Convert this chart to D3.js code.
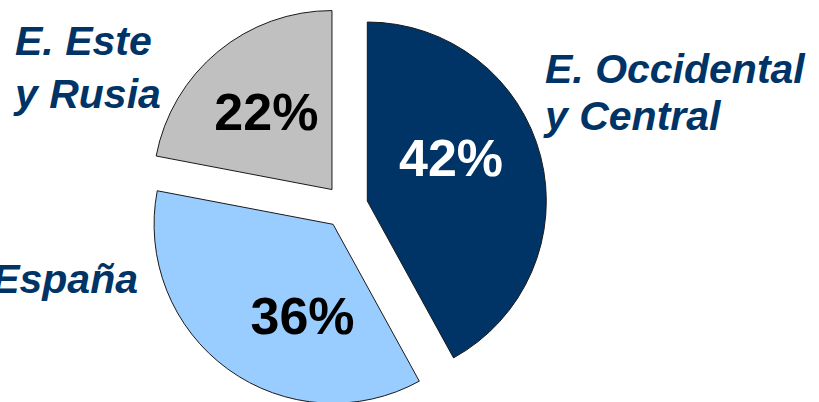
<!DOCTYPE html>
<html>
<head>
<meta charset="utf-8">
<script src="https://cdn.jsdelivr.net/npm/d3@7"></script>
<style>
  html, body { margin: 0; padding: 0; background: #ffffff; overflow: hidden; }
  svg { display: block; }
</style>
</head>
<body>
<svg id="chart" width="819" height="402"></svg>
<script>
// ---- data ----
const categories = ["E. Occidental y Central", "España", "E. Este y Rusia"];
const values = [42, 36, 22];
const valueLabels = ["42%", "36%", "22%"];
const colors = ["#003366", "#99CCFF", "#C0C0C0"];
const labelColors = ["#FFFFFF", "#000000", "#000000"];
const categoryLines = [["E. Occidental", "y Central"], ["España"], ["E. Este", "y Rusia"]];

// ---- layout ----
const W = 819, H = 402;
const cx = 346, cy = 206.5;
const radius = 179;
const explode = 22;
const labelRadius = 103;
const labelNudge = [[-16, -18], [30, 8], [0, 1]];
const catPos = [
  { x: 545, y: 83, anchor: "start", lh: 47 },
  { x: 138, y: 293, anchor: "end", lh: 47 },
  { x: 15, y: 55, anchor: "start", lh: 53 }
];

const svg = d3.select("#chart");
const g = svg.append("g").attr("transform", `translate(${cx},${cy})`);

const pie = d3.pie().sort(null).value(d => d)(values);
const arc = d3.arc().innerRadius(0).outerRadius(radius);
const labelArc = d3.arc().innerRadius(labelRadius).outerRadius(labelRadius);

const slices = g.selectAll("g.slice").data(pie).enter().append("g")
  .attr("class", "slice")
  .attr("transform", d => {
    const a = (d.startAngle + d.endAngle) / 2;
    return `translate(${explode * Math.sin(a)},${-explode * Math.cos(a)})`;
  });

slices.append("path")
  .attr("d", arc)
  .attr("fill", (d, i) => colors[i])
  .attr("stroke", "#1a1a1a")
  .attr("stroke-width", 1)
  .attr("stroke-linejoin", "miter");

slices.append("text")
  .attr("x", (d, i) => labelArc.centroid(d)[0] + labelNudge[i][0])
  .attr("y", (d, i) => labelArc.centroid(d)[1] + labelNudge[i][1])
  .attr("dy", "0.36em")
  .attr("text-anchor", "middle")
  .attr("font-family", "'Liberation Sans', Arial, sans-serif")
  .attr("font-weight", "bold")
  .attr("font-size", 52)
  .attr("fill", (d, i) => labelColors[i])
  .text((d, i) => valueLabels[i]);

// category labels
categoryLines.forEach((lines, i) => {
  const p = catPos[i];
  const t = svg.append("text")
    .attr("text-anchor", p.anchor)
    .attr("font-family", "'Liberation Sans', Arial, sans-serif")
    .attr("font-weight", "bold")
    .attr("font-style", "italic")
    .attr("font-size", 41)
    .attr("fill", "#003366");
  lines.forEach((ln, j) => {
    t.append("tspan").attr("x", p.x).attr("y", p.y + j * p.lh).text(ln);
  });
});
</script>
</body>
</html>
